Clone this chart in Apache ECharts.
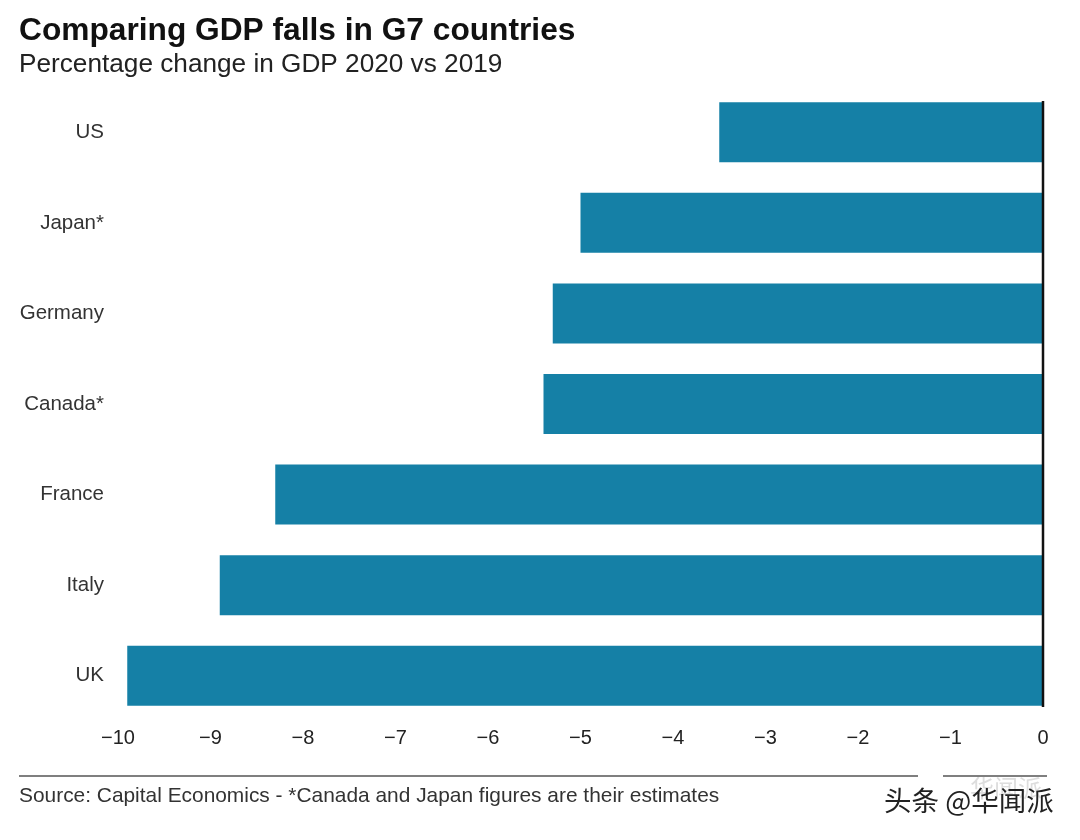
<!DOCTYPE html>
<html><head><meta charset="utf-8">
<style>html,body{margin:0;padding:0;background:#fff}#c{width:1080px;height:840px}</style>
<script src="https://cdn.jsdelivr.net/npm/echarts@6/dist/echarts.min.js"></script></head>
<body><div id="c"></div>
<script>
const categories = ['US','Japan*','Germany','Canada*','France','Italy','UK'];
const values = [-3.5,-5.0,-5.3,-5.4,-8.3,-8.9,-9.9];
const tickLabelMin = -10, tickLabelMax = 0;
const titleText = 'Comparing GDP falls in G7 countries';
const subtitleText = 'Percentage change in GDP 2020 vs 2019';
const sourceText = 'Source: Capital Economics - *Canada and Japan figures are their estimates';
const watermarkText = '头条 @华闻派';
const watermarkGhost = '华闻派';
const chart = echarts.init(document.getElementById('c'), null, {renderer:'canvas'});
const font = '"Liberation Sans", Arial, sans-serif';
chart.setOption({
  animation:false,
  backgroundColor:'#fff',
  grid:{left:118,right:37,top:87,bottom:119,containLabel:false},
  xAxis:{type:'value',min:tickLabelMin,max:tickLabelMax,interval:1,splitLine:{show:false},
    axisLine:{show:false},axisTick:{show:false},
    axisLabel:{color:'#222',fontSize:20,fontFamily:font,margin:7,
      formatter:v=>v<0?'\u2212'+Math.abs(v):String(v)}},
  yAxis:{type:'category',inverse:true,data:categories,position:'left',
    axisLine:{show:false},axisTick:{show:false},
    axisLabel:{color:'#333',fontSize:20.5,fontFamily:font,margin:14,padding:[2,0,0,0]}},
  series:[{type:'bar',data:values,barWidth:60,itemStyle:{color:'#1580a6'}}],
  graphic:[
    {type:'text',z:10,left:19,top:15,style:{text:titleText,font:'bold 31.7px '+font,fill:'#111'}},
    {type:'text',z:10,left:19,top:52,style:{text:subtitleText,font:'26.2px '+font,fill:'#222'}},
    {type:'line',z:10,shape:{x1:1043,y1:101,x2:1043,y2:707},style:{stroke:'#111',lineWidth:2.5}},
    {type:'line',z:10,shape:{x1:19,y1:776,x2:918,y2:776},style:{stroke:'#555',lineWidth:1.5}},
    {type:'line',z:10,shape:{x1:943,y1:776,x2:1047,y2:776},style:{stroke:'#555',lineWidth:1.5}},
    {type:'text',z:10,left:19,top:786,style:{text:sourceText,font:'20.9px '+font,fill:'#333'}},
    {type:'text',z:9,left:970,top:776,style:{text:watermarkGhost,font:'24px "Noto Sans CJK SC"',fill:'#ddd'}},
    {type:'text',z:10,left:884,top:787,style:{text:watermarkText,font:'27.5px "Noto Sans CJK SC"',fill:'#222'}}
  ]
});
</script></body></html>
